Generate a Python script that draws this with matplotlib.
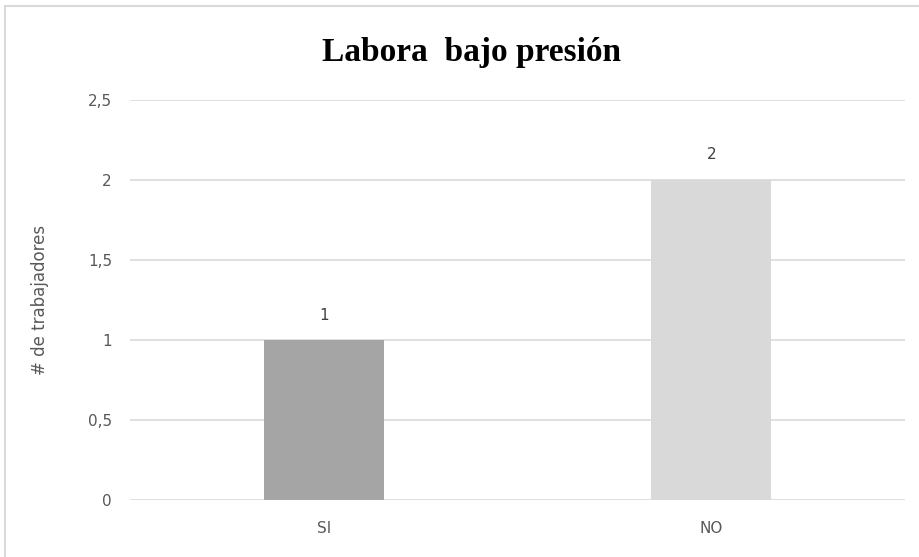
import matplotlib.pyplot as plt
from matplotlib.patches import Rectangle
from matplotlib.ticker import FuncFormatter

categorias  = ["SI", "NO"]
trabajadores = [1, 2]
colores     = ["#a5a5a5", "#d9d9d9"]
yticks      = [0, 0.5, 1, 1.5, 2, 2.5]

fig = plt.figure(figsize=(9.2, 5.57), dpi=100)
ax  = fig.add_axes([0.1413, 0.1023, 0.8424, 0.7182])

x = range(len(categorias))
bars = ax.bar(x, trabajadores, width=0.31, color=colores, zorder=3)

# etiquetas de valor sobre cada barra
for b, v in zip(bars, trabajadores):
    ax.annotate(str(v), (b.get_x() + b.get_width() / 2, v),
                xytext=(0, 18), textcoords="offset points",
                ha="center", va="center", fontsize=11, color="#404040")

ax.set_xlim(-0.5, 1.5)
ax.set_ylim(0, 2.5)
ax.set_yticks(yticks)
ax.yaxis.set_major_formatter(FuncFormatter(lambda v, p: ("%g" % v).replace(".", ",")))
ax.set_xticks(list(x))
ax.set_xticklabels(categorias)
ax.tick_params(length=0, labelsize=11, labelcolor="#595959")
ax.tick_params(axis="y", pad=13)
ax.tick_params(axis="x", pad=15)
ax.grid(axis="y", color="#d9d9d9", linewidth=1.2, zorder=0)
for s in ax.spines.values():
    s.set_visible(False)

ax.set_ylabel("# de trabajadores", fontsize=12, color="#595959", labelpad=28)

fig.text(0.512, 0.905, "Labora  bajo presión", ha="center", va="center",
         fontsize=24, fontweight="bold", family="Liberation Serif")

# marco del gráfico
fig.patches.append(Rectangle((5 / 920, -0.05), 1.2, 1 - 6 / 557 + 0.05,
                             transform=fig.transFigure, fill=False,
                             edgecolor="#d9d9d9", linewidth=1.5))

fig.savefig("out.png", dpi=100)
